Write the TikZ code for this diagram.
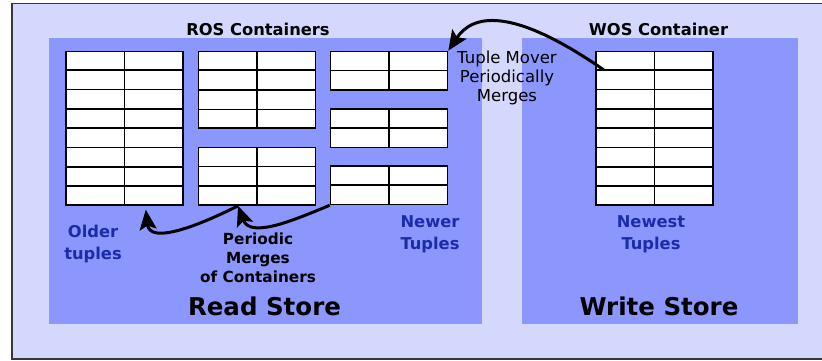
\documentclass[tikz,border=0pt]{standalone}
\usepackage{fontspec}
\setmainfont{DejaVu Sans}
\usetikzlibrary{arrows.meta,calc}

\definecolor{outerfill}{RGB}{212,216,252}
\definecolor{storefill}{RGB}{139,151,252}
\definecolor{tuplblue}{RGB}{26,44,170}
\definecolor{framegray}{RGB}{55,55,60}

\tikzset{
  store/.style={fill=storefill, draw=none},
  tbl/.style={draw=black, fill=white, line width=1.6pt, inner sep=0pt,
              anchor=north west, minimum width=117pt},
  heading/.style={font=\bfseries\fontsize{16.3}{19}\selectfont},
  note/.style={align=center, font=\fontsize{16.5}{19}\selectfont},
  merge/.style={align=center, font=\bfseries\fontsize{15.3}{19}\selectfont},
  age/.style={align=center, text=tuplblue, font=\bfseries\fontsize{16.3}{22}\selectfont},
  storename/.style={font=\bfseries\fontsize{24.5}{28}\selectfont},
  flow/.style={line width=3pt, -{Stealth[length=20pt,width=17pt,inset=4pt]}},
}

% \rowtable{name}{top-left corner}{rows}: a two-column container of tuples
\newcommand\rowtable[3]{%
  \node[tbl, minimum height=#3*19.17pt] (#1) at #2 {};
  \draw[line width=1.6pt] (#1.north) -- (#1.south);
  \pgfmathtruncatemacro\lastrow{#3-1}
  \foreach \k in {1,...,\lastrow}
    \draw[line width=1.6pt] ($(#1.north west)!\k/#3!(#1.south west)$)
                         -- ($(#1.north east)!\k/#3!(#1.south east)$);
}

\begin{document}
\begin{tikzpicture}[x=1pt,y=-1pt]
  \useasboundingbox (0,0) rectangle (822,360);

  % background frame
  \draw[framegray, line width=1.6pt, fill=outerfill] (12,3.5) rectangle (835,358.8);

  % the two stores
  \fill[store] (49,38) rectangle (482,324);
  \fill[store] (522,38) rectangle (798,324);

  % ROS containers
  \rowtable{t1}{(65,50.7)}{8}
  \rowtable{t2}{(197.7,50.7)}{4}
  \rowtable{t3}{(197.7,146.7)}{3}
  \rowtable{t4}{(329.7,50.7)}{2}
  \rowtable{t5}{(329.7,108.3)}{2}
  \rowtable{t6}{(329.7,165.3)}{2}

  % WOS container
  \rowtable{w1}{(595,50.7)}{8}

  % headings and labels
  \node[heading] (ros) at (258,29) {ROS Containers};
  \node[heading] (wos) at (658.5,29) {WOS Container};
  \node[note] (mover) at (507,78) {Tuple Mover\\Periodically\\Merges};
  \node[age] (older) at (93,244) {Older\\tuples};
  \node[age] (newer) at (430,234) {Newer\\Tuples};
  \node[age] (newest) at (651,234) {Newest\\Tuples};
  \node[merge] (merges) at (258,258) {Periodic\\Merges\\of Containers};
  \node[storename] (rs) at (264.5,306) {Read Store};
  \node[storename] (ws) at (659,306) {Write Store};

  % connector anchor points
  \coordinate (wosgrip) at ($(w1.north west)+(8.5,19)$);
  \coordinate (mid3) at ($(t3.south west)!0.34!(t3.south east)$);
  \coordinate (olderend) at ($(t1.south)+(21.5,4)$);

  % tuple mover and merge arrows
  \draw[flow] (wosgrip) .. controls (510,5) and (472,15) .. (t4.north east);
  \draw[flow] (t6.south west) .. controls (290,222) and (250,238) .. (mid3);
  \draw[flow] (mid3) .. controls (200,225) and (150,245) .. (olderend);
\end{tikzpicture}
\end{document}
